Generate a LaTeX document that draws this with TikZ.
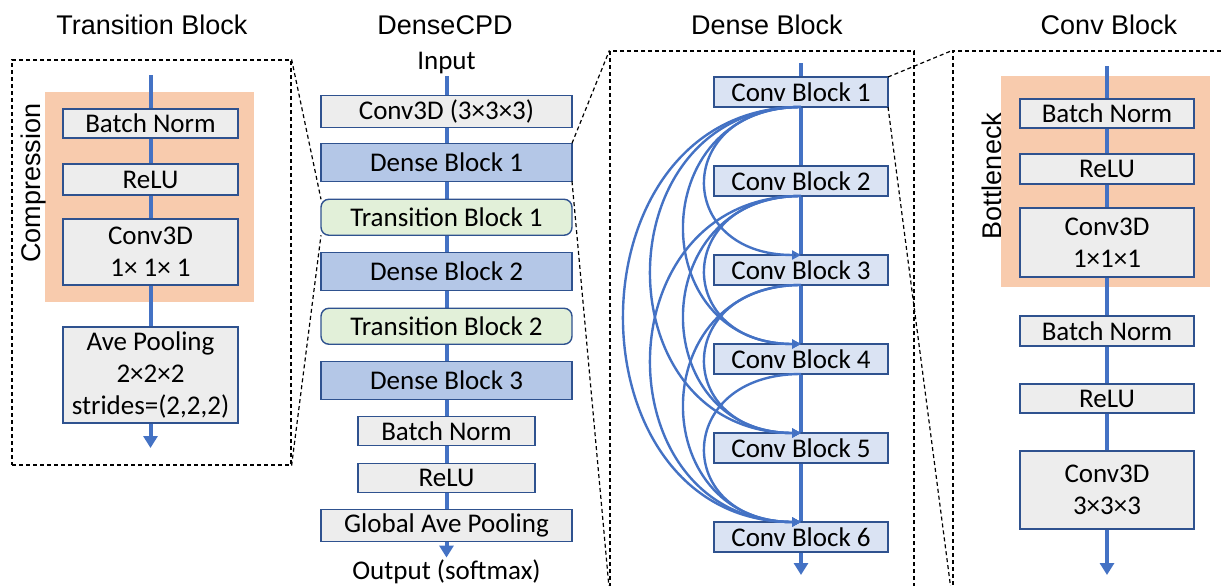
\documentclass[tikz,border=0pt]{standalone}
\usepackage{fontspec}
\setmainfont{Carlito}
\newfontfamily\headfont{Liberation Sans}
\usetikzlibrary{positioning,arrows.meta,fit,calc,backgrounds}

\definecolor{spineblue}{HTML}{4472C4}
\definecolor{edgeblue}{HTML}{2F528F}
\definecolor{boxgray}{HTML}{EDEDED}
\definecolor{denseblue}{HTML}{B4C7E7}
\definecolor{convblue}{HTML}{DAE3F3}
\definecolor{transgreen}{HTML}{E2F0D9}
\definecolor{peach}{HTML}{F8CBAD}

\begin{document}
\begin{tikzpicture}[
    font=\fontsize{13.5pt}{16pt}\selectfont,
    box/.style={draw=edgeblue, line width=0.7pt, align=center, inner sep=2pt,
                outer sep=0pt},
    layer/.style={box, fill=boxgray, minimum width=87.5pt, minimum height=14.5pt},
    wide/.style={box, fill=boxgray, minimum width=125.5pt, minimum height=15.5pt},
    dense/.style={box, fill=denseblue, minimum width=125.5pt, minimum height=19pt},
    trans/.style={box, fill=transgreen, rounded corners=4pt,
                  minimum width=125.5pt, minimum height=18pt},
    convb/.style={box, fill=convblue, minimum width=87pt, minimum height=15pt},
    io/.style={inner sep=1pt},
    title/.style={font=\headfont\fontsize{13.5pt}{16pt}\selectfont},
    side/.style={title, rotate=90},
    frame/.style={draw, dash pattern=on 2pt off 1.5pt, line width=0.6pt},
    proj/.style={frame},
    spine/.style={draw=spineblue, line width=2pt, -{Triangle[length=6pt,width=7pt]}},
    skip/.style={draw=spineblue, line width=1.2pt,
                 -{Triangle[open,length=4.5pt,width=4.5pt]}},
    band/.style={fill=peach}
  ]
  \useasboundingbox (0,0) rectangle (610.5pt,-292.5pt);
  \clip (0,0) rectangle (610.5pt,-292.5pt);

  % ===== transition block (zoomed) =====
  \node[title] (ttitle) at (76pt,-12.5pt) {Transition Block};
  \node[frame, minimum width=139.5pt, minimum height=202.5pt] (tbox)
    at (75.75pt,-131.25pt) {};
  \node[layer] (tbn) at (75.25pt,-61.75pt) {Batch Norm};
  \node[layer, minimum height=15.5pt, below=13pt of tbn] (trelu) {ReLU};
  \node[layer, minimum height=33pt, below=12pt of trelu] (tconv)
    {Conv3D\\1× 1× 1};
  \node[layer, minimum height=48pt, below=21pt of tconv] (tpool)
    {Ave Pooling\\2×2×2\\strides=(2,2,2)};
  \node[side] (tlab) at (17pt,-91.5pt) {Compression};
  \coordinate (ttop) at (75.25pt,-37.5pt);
  \coordinate (tend) at (75.25pt,-224pt);

  % ===== full network =====
  \node[title] (ntitle) at (222.5pt,-12.5pt) {DenseCPD};
  \node[io] (cin) at (223.25pt,-31.5pt) {Input};
  \node[wide] (c3d) at (223.25pt,-55.75pt) {Conv3D (3×3×3)};
  \node[dense, below=8pt of c3d] (db1) {Dense Block 1};
  \node[trans, below=9pt of db1] (tb1) {Transition Block 1};
  \node[dense, below=8.5pt of tb1] (db2) {Dense Block 2};
  \node[trans, below=9pt of db2] (tb2) {Transition Block 2};
  \node[dense, below=8.5pt of tb2] (db3) {Dense Block 3};
  \node[layer, minimum width=88.5pt, below=8.5pt of db3] (cbn) {Batch Norm};
  \node[layer, minimum width=88.5pt, below=9pt of cbn] (crelu) {ReLU};
  \node[wide, minimum height=16pt, below=8.5pt of crelu] (cgap)
    {Global Ave Pooling};
  \node[io] (cout) at (223.25pt,-286pt) {Output (softmax)};

  % ===== dense block (zoomed) =====
  \node[title] (dtitle) at (383.5pt,-12.5pt) {Dense Block};
  \node[frame, minimum width=152pt, minimum height=270pt] (dbox)
    at (381pt,-160.5pt) {};
  \node[convb] (cb1) at (400.5pt,-46pt) {Conv Block 1};
  \foreach \i [count=\j from 1] in {2,...,6}
    \node[convb, below=29.5pt of cb\j] (cb\i) {Conv Block \i};
  \coordinate (dtop) at (400.5pt,-31.5pt);
  \coordinate (dend) at (400.5pt,-287.5pt);

  % dense connections, wider arcs for longer jumps
  \foreach \a/\b/\d in {1/3/64pt, 2/4/64pt, 3/5/64pt, 4/6/64pt,
                        1/4/78pt, 2/5/78pt, 3/6/78pt,
                        1/5/100pt, 2/6/100pt, 1/6/118pt}
    \draw[skip] (cb\a.south) .. controls +(-\d,0) and +(-\d,0) .. (cb\b.north);

  % ===== conv block (zoomed) =====
  \node[title] (ktitle) at (554.5pt,-12.5pt) {Conv Block};
  \node[frame, minimum width=148.5pt, minimum height=274.5pt] (kbox)
    at (550.75pt,-162.75pt) {};
  \node[layer, minimum width=87pt] (kbn) at (553.5pt,-56.75pt) {Batch Norm};
  \node[layer, minimum width=87pt, minimum height=15pt, below=13pt of kbn]
    (krelu) {ReLU};
  \node[layer, minimum width=87pt, minimum height=34.5pt, below=12pt of krelu]
    (kconv) {Conv3D\\1×1×1};
  \node[layer, minimum width=87pt, minimum height=15pt, below=19.5pt of kconv]
    (kbn2) {Batch Norm};
  \node[layer, minimum width=87pt, below=19pt of kbn2] (krelu2) {ReLU};
  \node[layer, minimum width=87pt, minimum height=39pt, below=19pt of krelu2]
    (kconv2) {Conv3D\\3×3×3};
  \node[side] (klab) at (496pt,-88pt) {Bottleneck};
  \coordinate (ktop) at (553.5pt,-33pt);
  \coordinate (kend) at (553.5pt,-287.5pt);

  % ===== bands and data flow behind the boxes =====
  \begin{scope}[on background layer]
    \fill[band] ($(tbn.north west)+(-9pt,8.5pt)$)
      rectangle ($(tconv.south east)+(8pt,-8.5pt)$);
    \fill[band] ($(kbn.north west)+(-9.5pt,11.5pt)$)
      rectangle ($(kconv.south east)+(8pt,-5pt)$);
    \draw[spine] (ttop) -- (tend);
    \draw[spine] (cin) -- (cout.north);
    \draw[spine] (dtop) -- (dend);
    \draw[spine] (ktop) -- (kend);
  \end{scope}

  % ===== zoom guides =====
  \draw[proj] (tbox.north east) -- (tb1.north west);
  \draw[proj] (tbox.south east) -- (tb1.south west);
  \draw[proj] (db1.north east) -- (dbox.north west);
  \draw[proj] (db1.south east) -- (dbox.south west);
  \draw[proj] (cb1.north east) -- (kbox.north west);
  \draw[proj] (cb1.south east) -- (kbox.south west);

\end{tikzpicture}
\end{document}
